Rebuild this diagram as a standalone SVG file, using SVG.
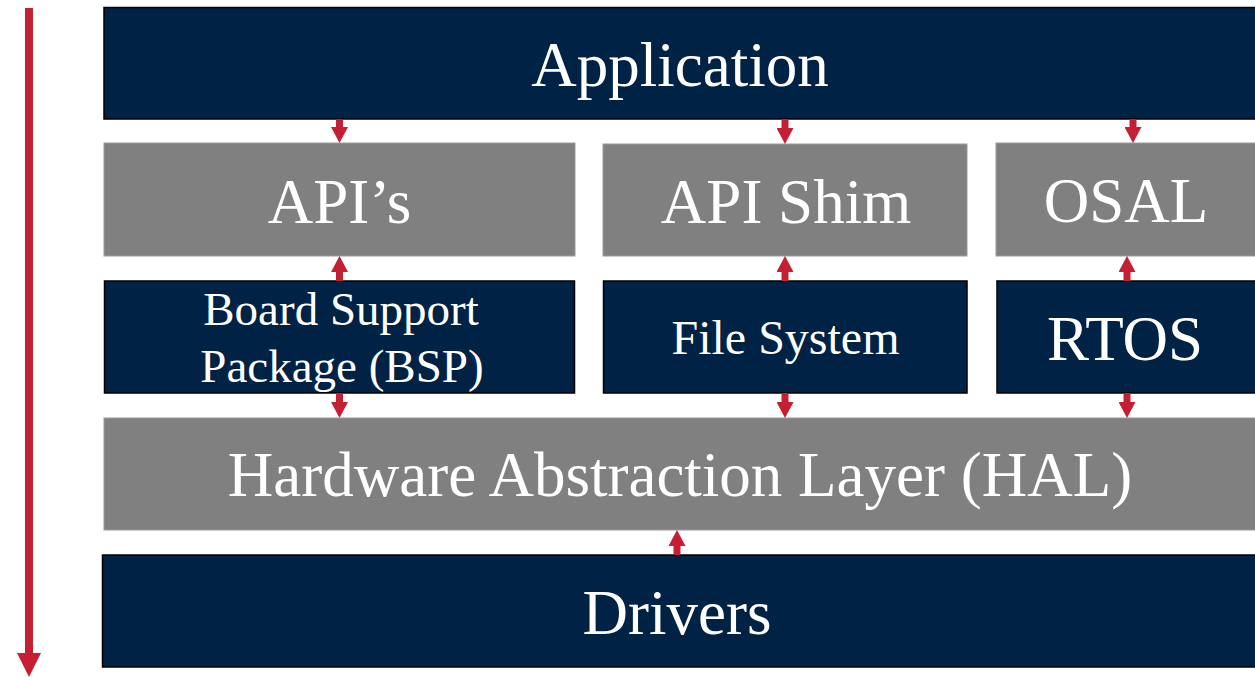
<svg xmlns="http://www.w3.org/2000/svg" width="1255" height="680" viewBox="0 0 1255 680">
  <style>
    .dark { fill: #002244; stroke: #000000; stroke-width: 1.5; }
    .gray { fill: #808080; stroke: #9a9a9a; stroke-width: 1; }
    .t { fill: #ffffff; font-family: "Liberation Serif", "Times New Roman", serif; text-anchor: middle; }
    .conn { stroke: #C41F33; stroke-width: 7; fill: none; }
  </style>
  <defs>
    <marker id="ah" markerUnits="userSpaceOnUse" markerWidth="16" markerHeight="17" refX="6" refY="8.5" orient="auto">
      <path d="M0,0 L16,8.5 L0,17 Z" fill="#C41F33"/>
    </marker>
    <marker id="ahBig" markerUnits="userSpaceOnUse" markerWidth="24" markerHeight="24" refX="6" refY="12" orient="auto">
      <path d="M0,0 L24,12 L0,24 Z" fill="#C41F33"/>
    </marker>
  </defs>
  <rect width="1255" height="680" fill="#ffffff"/>

  <g id="flow-arrow">
    <line x1="29" y1="8" x2="29" y2="659" stroke="#C41F33" stroke-width="8" marker-end="url(#ahBig)"/>
  </g>

  <g id="application">
    <rect class="dark" x="104" y="7.5" width="1160" height="111.5"/>
    <text class="t" x="680" y="86" font-size="63">Application</text>
  </g>
  <g id="apis">
    <rect class="gray" x="104" y="143" width="471" height="113"/>
    <text class="t" x="339.5" y="223" font-size="63">API’s</text>
  </g>
  <g id="api-shim">
    <rect class="gray" x="603" y="144" width="364" height="112"/>
    <text class="t" x="786" y="223" font-size="63">API Shim</text>
  </g>
  <g id="osal">
    <rect class="gray" x="996" y="143" width="270" height="113"/>
    <text class="t" x="1126" y="222" font-size="63">OSAL</text>
  </g>
  <g id="bsp">
    <rect class="dark" x="104.5" y="281" width="470" height="112"/>
    <text class="t" x="341" y="325" font-size="47">Board Support</text>
    <text class="t" x="342" y="382" font-size="47">Package (BSP)</text>
  </g>
  <g id="file-system">
    <rect class="dark" x="603.5" y="281" width="363.5" height="112"/>
    <text class="t" x="785.5" y="354" font-size="48">File System</text>
  </g>
  <g id="rtos">
    <rect class="dark" x="997" y="281" width="270" height="112"/>
    <text class="t" x="1125" y="360" font-size="63">RTOS</text>
  </g>
  <g id="hal">
    <rect class="gray" x="104" y="418" width="1160" height="112"/>
    <text class="t" x="680" y="496" font-size="63">Hardware Abstraction Layer (HAL)</text>
  </g>
  <g id="drivers">
    <rect class="dark" x="102.5" y="555" width="1160" height="112"/>
    <text class="t" x="677" y="634" font-size="63">Drivers</text>
  </g>

  <g id="connectors" class="conn">
    <line x1="339.5" y1="119" x2="339.5" y2="133" marker-end="url(#ah)"/>
    <line x1="785" y1="119" x2="785" y2="134" marker-end="url(#ah)"/>
    <line x1="1133" y1="119" x2="1133" y2="133" marker-end="url(#ah)"/>
    <line x1="339.5" y1="281" x2="339.5" y2="266" marker-end="url(#ah)"/>
    <line x1="785" y1="281" x2="785" y2="266" marker-end="url(#ah)"/>
    <line x1="1127" y1="281" x2="1127" y2="266" marker-end="url(#ah)"/>
    <line x1="339.5" y1="393" x2="339.5" y2="408" marker-end="url(#ah)"/>
    <line x1="785" y1="393" x2="785" y2="408" marker-end="url(#ah)"/>
    <line x1="1127" y1="393" x2="1127" y2="408" marker-end="url(#ah)"/>
    <line x1="677" y1="555" x2="677" y2="540" marker-end="url(#ah)"/>
  </g>
</svg>
